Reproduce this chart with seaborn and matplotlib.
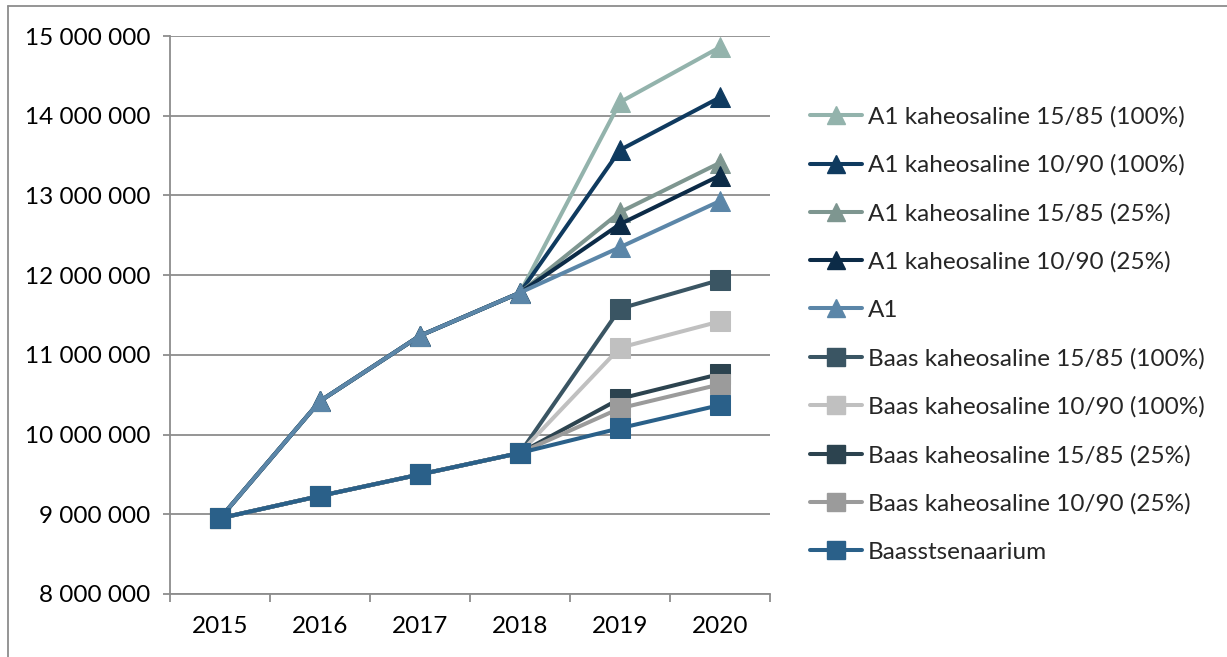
import matplotlib
matplotlib.use("Agg")
import matplotlib.pyplot as plt
from matplotlib.lines import Line2D
from matplotlib.ticker import FuncFormatter, FixedLocator, NullFormatter
import seaborn as sns
import pandas as pd

years = ["2015", "2016", "2017", "2018", "2019", "2020"]

series_names = [
    "A1 kaheosaline 15/85 (100%)",
    "A1 kaheosaline 10/90 (100%)",
    "A1 kaheosaline 15/85 (25%)",
    "A1 kaheosaline 10/90 (25%)",
    "A1",
    "Baas kaheosaline 15/85 (100%)",
    "Baas kaheosaline 10/90 (100%)",
    "Baas kaheosaline 15/85 (25%)",
    "Baas kaheosaline 10/90 (25%)",
    "Baasstsenaarium",
]

a1_15_85_100 = [8950000, 10420000, 11240000, 11780000, 14170000, 14860000]
a1_10_90_100 = [8950000, 10420000, 11240000, 11780000, 13570000, 14230000]
a1_15_85_25 = [8950000, 10420000, 11240000, 11780000, 12790000, 13410000]
a1_10_90_25 = [8950000, 10420000, 11240000, 11780000, 12640000, 13250000]
a1 = [8950000, 10420000, 11240000, 11780000, 12350000, 12930000]
baas_15_85_100 = [8950000, 9230000, 9500000, 9770000, 11580000, 11940000]
baas_10_90_100 = [8950000, 9230000, 9500000, 9770000, 11090000, 11420000]
baas_15_85_25 = [8950000, 9230000, 9500000, 9770000, 10450000, 10760000]
baas_10_90_25 = [8950000, 9230000, 9500000, 9770000, 10330000, 10630000]
baasstsenaarium = [8950000, 9230000, 9500000, 9770000, 10080000, 10370000]

series_values = [
    a1_15_85_100, a1_10_90_100, a1_15_85_25, a1_10_90_25, a1,
    baas_15_85_100, baas_10_90_100, baas_15_85_25, baas_10_90_25, baasstsenaarium,
]

colors = ["#93B3AC", "#0F3A5F", "#7E9690", "#0C2B47", "#5B86A8",
          "#3A5563", "#C0C0C0", "#2C434F", "#9B9B9B", "#2A6089"]
markers = ["^"] * 5 + ["s"] * 5

sns.set_theme(style="white")
plt.rcParams["font.family"] = ["Lato", "DejaVu Sans"]

FS = 17.5
GRID = "#8C8C8C"

fig = plt.figure(figsize=(12.27, 6.57), dpi=100)
ax = fig.add_axes([170 / 1227, 1 - 594 / 657, 600 / 1227, 558 / 657])

rows = []
for name, vals in zip(series_names, series_values):
    for i, v in enumerate(vals):
        rows.append({"series": name, "x": i, "value": v})
df = pd.DataFrame(rows)

for k, name in enumerate(series_names):
    sns.lineplot(data=df[df["series"] == name], x="x", y="value", ax=ax,
                 color=colors[k], marker=markers[k], markersize=14,
                 markeredgecolor=colors[k], linewidth=2.9, zorder=3 + k,
                 legend=False)

ax.set_xlim(-0.5, 5.5)
ax.set_ylim(8000000, 15000000)
ax.set_xlabel("")
ax.set_ylabel("")

ax.set_yticks(range(8000000, 15000001, 1000000))
ax.yaxis.set_major_formatter(FuncFormatter(lambda v, p: f"{int(v):,}".replace(",", " ")))
ax.grid(axis="y", color=GRID, linewidth=1.3)
ax.grid(axis="x", visible=False)

ax.xaxis.set_major_locator(FixedLocator([i - 0.5 for i in range(7)]))
ax.xaxis.set_major_formatter(NullFormatter())
ax.set_xticks(range(6), years, minor=True)
ax.tick_params(axis="x", which="major", bottom=True, length=6, width=1.3, color=GRID, direction="out")
ax.tick_params(axis="x", which="minor", bottom=True, length=0, labelsize=FS, pad=16, labelcolor="black")
ax.tick_params(axis="y", left=True, length=5, width=1.3, color=GRID, labelsize=FS, pad=9, labelcolor="black")

for side in ["top", "right"]:
    ax.spines[side].set_visible(False)
for side in ["left", "bottom"]:
    ax.spines[side].set_color(GRID)
    ax.spines[side].set_linewidth(1.3)

handles = [Line2D([], [], color=c, marker=m, markersize=13, linewidth=2.9, markeredgecolor=c)
           for c, m in zip(colors, markers)]
fig.legend(handles, series_names, loc="upper left", bbox_to_anchor=(810 / 1227, 1 - 106 / 657),
           frameon=False, fontsize=FS, handlelength=2.14, handletextpad=0.25,
           labelspacing=1.11, borderaxespad=0, borderpad=0)

# outer chart frame (top and left edges)
fig.add_artist(Line2D([8 / 1227, 1], [1 - 6 / 657, 1 - 6 / 657], transform=fig.transFigure,
                      color=GRID, linewidth=1.3))
fig.add_artist(Line2D([8 / 1227, 8 / 1227], [0, 1 - 6 / 657], transform=fig.transFigure,
                      color=GRID, linewidth=1.3))

fig.savefig("out.png", dpi=100)
